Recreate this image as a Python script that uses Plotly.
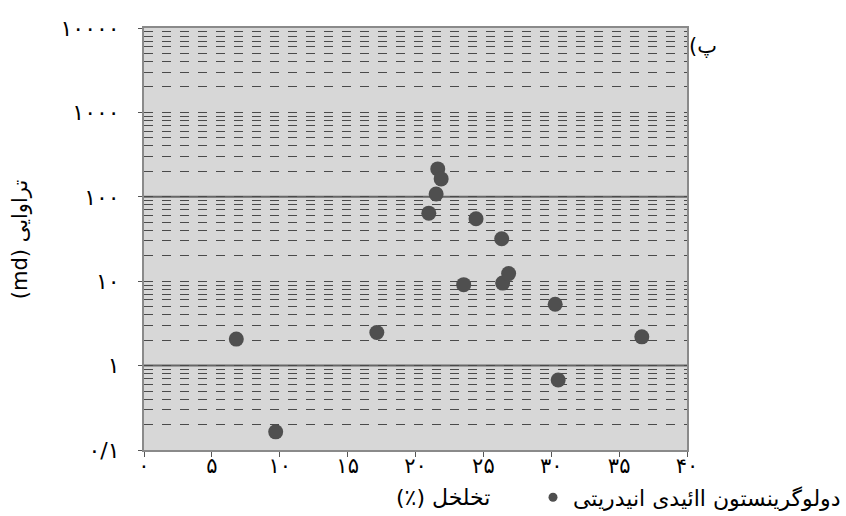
import plotly.graph_objects as go

# Data (porosity %, permeability md)
porosity = [6.8, 9.7, 17.15, 20.98, 21.52, 21.64, 21.89, 23.55, 24.46, 26.35, 26.42, 26.86, 30.29, 30.51, 36.67]
permeability = [2.06, 0.164, 2.47, 64, 108, 214, 163, 9.1, 55, 31.9, 9.5, 12.3, 5.33, 0.674, 2.19]

series_name = "دولوگرینستون اائیدی انیدریتی"
x_title = "\u200fتخلخل (٪)\u200f"
y_title = "\u202bتراوایی (md)\u202c"
panel_label = "پ)\u200f"

x_tickvals = [0, 5, 10, 15, 20, 25, 30, 35, 40]
x_ticktext = ["۰", "۵", "۱۰", "۱۵", "۲۰", "۲۵", "۳۰", "۳۵", "۴۰"]
y_tickvals = [0.1, 1, 10, 100, 1000, 10000]
y_ticktext = ["۰/۱", "۱", "۱۰", "۱۰۰", "۱۰۰۰", "۱۰۰۰۰"]
solid_grid = [1, 100]

FONT = "DejaVu Sans, Noto Sans, sans-serif"
DOT = "#4f4f4f"

fig = go.Figure()
fig.add_trace(go.Scatter(
    x=porosity, y=permeability, mode="markers", name=series_name,
    marker=dict(size=15, color=DOT), showlegend=False,
))
# legend entry with the small key marker used in the reference
fig.add_trace(go.Scatter(
    x=[None], y=[None], mode="markers", name=series_name,
    marker=dict(size=9, color=DOT), showlegend=True,
))

for v in solid_grid:
    fig.add_shape(type="line", xref="paper", yref="y", x0=0, x1=1, y0=v, y1=v,
                  line=dict(color="#666666", width=2), layer="below")

fig.update_layout(
    width=846, height=516,
    margin=dict(l=144, r=159, t=28, b=66, autoexpand=False),
    paper_bgcolor="white",
    plot_bgcolor="#d7d7d7",
    font=dict(family=FONT, size=18, color="black"),
    showlegend=True,
    legend=dict(xref="container", yref="container", x=1.0, y=0.036,
                xanchor="right", yanchor="middle",
                orientation="h", font=dict(size=22),
                bgcolor="rgba(0,0,0,0)", itemwidth=30),
    xaxis=dict(range=[0, 40], tickvals=x_tickvals, ticktext=x_ticktext,
               showgrid=False, zeroline=False, showline=True, mirror=True,
               linecolor="#8a8a8a", linewidth=2, ticks="outside", ticklen=5,
               tickcolor="#555", tickfont=dict(size=21), ticklabelstandoff=-9,
               automargin=False),
    yaxis=dict(type="log", range=[-1, 4], tickvals=y_tickvals, ticktext=y_ticktext,
               showgrid=False, zeroline=False, showline=True, mirror=True,
               linecolor="#8a8a8a", linewidth=2, ticks="outside", ticklen=4,
               tickcolor="#555", tickfont=dict(size=22), ticklabelstandoff=14,
               automargin=False,
               minor=dict(showgrid=True, dtick="D1", griddash="dash",
                          gridcolor="#4a4a4a", gridwidth=1, ticks="")),
    annotations=[
        dict(text=x_title, xref="paper", yref="paper", x=0.55, y=-0.113,
             showarrow=False, font=dict(size=22), xanchor="center", yanchor="middle"),
        dict(text=y_title, xref="paper", yref="paper", x=-0.228, y=0.5,
             showarrow=False, textangle=-90, font=dict(size=21),
             xanchor="center", yanchor="middle"),
        dict(text=panel_label, xref="paper", yref="paper", x=1.03, y=0.957,
             showarrow=False, font=dict(size=21), xanchor="center", yanchor="middle"),
    ],
)

fig.write_html("out.html", config={"displayModeBar": False},
               post_script="document.body.style.margin='0';")
